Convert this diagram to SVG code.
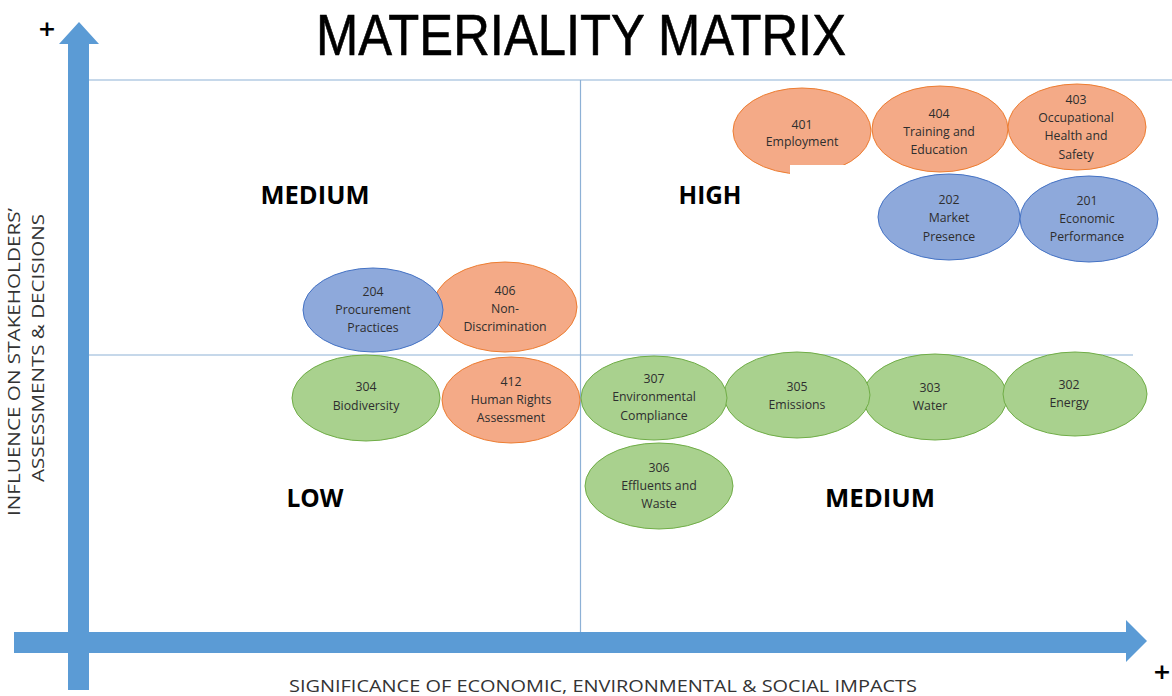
<svg xmlns="http://www.w3.org/2000/svg" width="1172" height="696" viewBox="0 0 1172 696">
<style>
.t{font-family:"Open Sans","Liberation Sans",sans-serif;font-size:12.3px;fill:#2e2e2e;text-anchor:middle;dominant-baseline:central}
.q{font-family:"Open Sans","Liberation Sans",sans-serif;font-size:24.5px;font-weight:bold;fill:#000;text-anchor:middle}
.ax{font-family:"Open Sans","Liberation Sans",sans-serif;font-size:16px;fill:#333}
.o{fill:#F4AA87;stroke:#ED7D31;stroke-width:1}
.b{fill:#8EA9DB;stroke:#4472C4;stroke-width:1}
.g{fill:#A9D18E;stroke:#70AD47;stroke-width:1}
.gl{stroke:#8DB1D6;stroke-width:1.2;fill:none}
.arw{fill:#5B9BD5}
.plus{font-family:"DejaVu Sans",sans-serif;font-size:22px;font-weight:bold;fill:#000;text-anchor:middle}
</style>
<rect width="1172" height="696" fill="#fff"/>
<g id="grid">
<line class="gl" x1="89" y1="80" x2="1172" y2="80"/>
<line class="gl" x1="89" y1="355" x2="1133" y2="355"/>
<line class="gl" x1="580.5" y1="80" x2="580.5" y2="632"/>
</g>
<g id="axes">
<polygon class="arw" points="68,690 89,690 89,44 99,44 79,22 59,44 68,44"/>
<polygon class="arw" points="14,632 1126,632 1126,620 1147,641 1126,662 1126,653 14,653"/>
<text class="plus" x="47" y="36">+</text>
<text class="plus" x="1162" y="679">+</text>
</g>
<text x="581" y="55" font-family="'Liberation Sans','Open Sans',sans-serif" font-size="57" text-anchor="middle" textLength="530" lengthAdjust="spacingAndGlyphs" fill="#000" stroke="#000" stroke-width="0.6">MATERIALITY MATRIX</text>
<text class="ax" x="603" y="692" text-anchor="middle" font-size="18" textLength="628" lengthAdjust="spacingAndGlyphs">SIGNIFICANCE OF ECONOMIC, ENVIRONMENTAL &amp; SOCIAL IMPACTS</text>
<text class="ax" transform="translate(20,362) rotate(-90)" text-anchor="middle" textLength="308" lengthAdjust="spacingAndGlyphs">INFLUENCE ON STAKEHOLDERS’</text>
<text class="ax" transform="translate(44,348) rotate(-90)" text-anchor="middle" textLength="268" lengthAdjust="spacingAndGlyphs">ASSESSMENTS &amp; DECISIONS</text>
<g id="quadrants">
<text class="q" x="315" y="204" textLength="109" lengthAdjust="spacingAndGlyphs">MEDIUM</text>
<text class="q" x="710" y="204" textLength="63" lengthAdjust="spacingAndGlyphs">HIGH</text>
<text class="q" x="315" y="507" textLength="57" lengthAdjust="spacingAndGlyphs">LOW</text>
<text class="q" x="880" y="507" textLength="110" lengthAdjust="spacingAndGlyphs">MEDIUM</text>
</g>
<g id="n401"><ellipse class="o" cx="802" cy="131" rx="69" ry="43"/><text class="t" x="802"><tspan x="802" y="124">401</tspan><tspan x="802" y="141">Employment</tspan></text></g>
<rect x="790" y="165" width="80" height="14" fill="#fff"/>
<g id="n404"><ellipse class="o" cx="940" cy="129" rx="68" ry="43"/><text class="t"><tspan x="939" y="113">404</tspan><tspan x="939" y="131">Training and</tspan><tspan x="939" y="149">Education</tspan></text></g>
<g id="n403"><ellipse class="o" cx="1077" cy="127" rx="69" ry="43"/><text class="t"><tspan x="1076" y="99">403</tspan><tspan x="1076" y="117">Occupational</tspan><tspan x="1076" y="135">Health and</tspan><tspan x="1076" y="154">Safety</tspan></text></g>
<g id="n202"><ellipse class="b" cx="949" cy="217" rx="71" ry="43"/><text class="t"><tspan x="949" y="199">202</tspan><tspan x="949" y="217">Market</tspan><tspan x="949" y="236">Presence</tspan></text></g>
<g id="n201"><ellipse class="b" cx="1089" cy="219" rx="69" ry="43"/><text class="t"><tspan x="1087" y="200">201</tspan><tspan x="1087" y="218">Economic</tspan><tspan x="1087" y="236">Performance</tspan></text></g>
<g id="n406"><ellipse class="o" cx="505" cy="307" rx="72" ry="45"/><text class="t"><tspan x="505" y="290">406</tspan><tspan x="505" y="308">Non-</tspan><tspan x="505" y="326">Discrimination</tspan></text></g>
<g id="n204"><ellipse class="b" cx="373" cy="310" rx="70" ry="42"/><text class="t"><tspan x="373" y="291">204</tspan><tspan x="373" y="309">Procurement</tspan><tspan x="373" y="327">Practices</tspan></text></g>
<g id="n304"><ellipse class="g" cx="366" cy="398" rx="74" ry="43"/><text class="t"><tspan x="366" y="386">304</tspan><tspan x="366" y="405">Biodiversity</tspan></text></g>
<g id="n412"><ellipse class="o" cx="511" cy="400" rx="69" ry="43"/><text class="t"><tspan x="511" y="381">412</tspan><tspan x="511" y="399">Human Rights</tspan><tspan x="511" y="417">Assessment</tspan></text></g>
<g id="n303"><ellipse class="g" cx="935" cy="397" rx="72" ry="43"/><text class="t"><tspan x="930" y="387">303</tspan><tspan x="930" y="405">Water</tspan></text></g>
<g id="n302"><ellipse class="g" cx="1075" cy="394" rx="72" ry="42"/><text class="t"><tspan x="1069" y="384">302</tspan><tspan x="1069" y="402">Energy</tspan></text></g>
<g id="n305"><ellipse class="g" cx="797" cy="395" rx="73" ry="43"/><text class="t"><tspan x="797" y="386">305</tspan><tspan x="797" y="404">Emissions</tspan></text></g>
<g id="n307"><ellipse class="g" cx="654" cy="398" rx="73" ry="42"/><text class="t"><tspan x="654" y="378">307</tspan><tspan x="654" y="396">Environmental</tspan><tspan x="654" y="415">Compliance</tspan></text></g>
<g id="n306"><ellipse class="g" cx="659" cy="486" rx="74" ry="43"/><text class="t"><tspan x="659" y="467">306</tspan><tspan x="659" y="485">Effluents and</tspan><tspan x="659" y="503">Waste</tspan></text></g>
</svg>
